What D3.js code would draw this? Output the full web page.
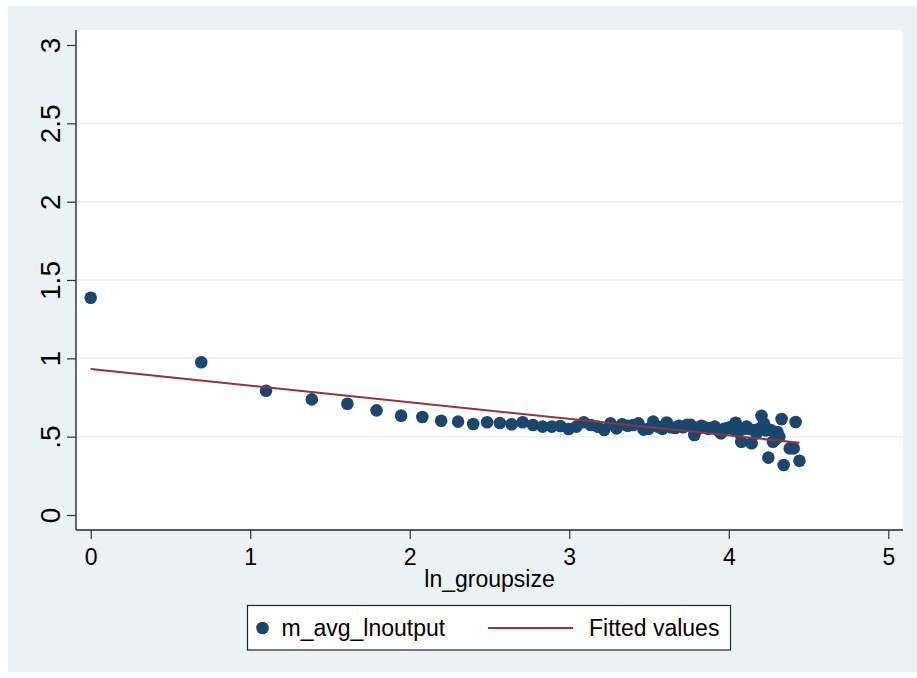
<!DOCTYPE html>
<html>
<head>
<meta charset="utf-8">
<script src="https://cdn.jsdelivr.net/npm/d3@7"></script>
<style>
  body { margin: 0; background: #fff; }
  text { font-family: "Liberation Sans", Arial, sans-serif; fill: #000; }
</style>
</head>
<body>
<div id="chart"></div>
<script>
var width = 917,
    height = 678;

// ln_groupsize of each point
var lnGroupsize = [
  0, 0.693, 1.099, 1.386, 1.609, 1.792, 1.946, 2.079, 2.197, 2.303,
  2.398, 2.485, 2.565, 2.639, 2.708, 2.773, 2.833, 2.890, 2.944, 2.996,
  3.045, 3.091, 3.135, 3.178, 3.219, 3.258, 3.296, 3.332, 3.367, 3.401,
  3.434, 3.466, 3.497, 3.526, 3.555, 3.584, 3.611, 3.638, 3.664, 3.689,
  3.714, 3.738, 3.761, 3.784, 3.807, 3.829, 3.850, 3.871, 3.892, 3.912,
  3.932, 3.951, 3.970, 3.989, 4.007, 4.025, 4.043, 4.060, 4.078, 4.094,
  4.111, 4.127, 4.143, 4.159, 4.174, 4.190, 4.205, 4.220, 4.234, 4.248,
  4.263, 4.277, 4.290, 4.304, 4.317, 4.331, 4.344, 4.382, 4.407, 4.419,
  4.443
];

// m_avg_lnoutput of each point
var mAvgLnoutput = [
  1.387, 0.975, 0.793, 0.738, 0.710, 0.668, 0.634, 0.626, 0.602, 0.596,
  0.581, 0.592, 0.587, 0.579, 0.592, 0.574, 0.564, 0.564, 0.568, 0.549,
  0.564, 0.592, 0.574, 0.564, 0.543, 0.585, 0.553, 0.579, 0.570, 0.574,
  0.585, 0.545, 0.550, 0.596, 0.564, 0.550, 0.590, 0.560, 0.555, 0.570,
  0.560, 0.575, 0.575, 0.511, 0.550, 0.570, 0.560, 0.550, 0.555, 0.564,
  0.540, 0.521, 0.550, 0.553, 0.560, 0.550, 0.589, 0.530, 0.468, 0.550,
  0.564, 0.550, 0.458, 0.540, 0.521, 0.550, 0.633, 0.585, 0.540, 0.366,
  0.543, 0.468, 0.480, 0.530, 0.500, 0.613, 0.319, 0.425, 0.425, 0.594,
  0.346
];

// fitted values (linear fit), end points
var fitX = [0, 4.443];
var fitY = [0.932, 0.461];

var xTicks = [0, 1, 2, 3, 4, 5];
var yTicks = [0, 0.5, 1, 1.5, 2, 2.5, 3];
var yTickLabels = ["0", ".5", "1", "1.5", "2", "2.5", "3"];
var xTitle = "ln_groupsize";
var legendLabels = ["m_avg_lnoutput", "Fitted values"];

var navy = "#1a476f",
    maroon = "#90353b",
    bluishgray = "#eaf2f3";

var plot = {left: 76, right: 903, top: 30, bottom: 530};

var x = d3.scaleLinear()
    .domain([0, 5])
    .range([90.7, 888.3]);

var y = d3.scaleLinear()
    .domain([0, 3])
    .range([515, 45]);

var svg = d3.select("#chart").append("svg")
    .attr("width", width)
    .attr("height", height);

// graph region
svg.append("rect")
    .attr("x", 8).attr("y", 6)
    .attr("width", 909).attr("height", 666)
    .attr("fill", bluishgray);

// plot region
svg.append("rect")
    .attr("x", plot.left).attr("y", plot.top)
    .attr("width", plot.right - plot.left)
    .attr("height", plot.bottom - plot.top)
    .attr("fill", "#fff");

// grid lines (not on the outer ticks)
svg.append("g")
  .selectAll("line")
    .data(yTicks.filter(function(d) { return d > 0 && d < 3; }))
  .enter().append("line")
    .attr("x1", plot.left).attr("x2", plot.right)
    .attr("y1", function(d) { return y(d); })
    .attr("y2", function(d) { return y(d); })
    .attr("stroke", bluishgray)
    .attr("stroke-width", 1.5);

// y axis
var yAxis = svg.append("g")
    .attr("transform", "translate(" + plot.left + ",0)")
    .call(d3.axisLeft(y).tickValues(yTicks).tickSize(9).tickPadding(6)
      .tickFormat(function(d, i) { return yTickLabels[i]; }));
yAxis.select(".domain")
    .attr("d", "M0," + plot.top + "V" + plot.bottom)
    .attr("stroke", "#666").attr("stroke-width", 2);
yAxis.selectAll(".tick line").attr("stroke", "#333").attr("stroke-width", 1.2);
yAxis.selectAll(".tick text")
    .attr("font-size", 28)
    .attr("font-family", "Liberation Sans, Arial, sans-serif")
    .attr("text-anchor", "middle")
    .attr("x", null).attr("dy", null)
    .attr("transform", "translate(-16,0) rotate(-90)");

// x axis
var xAxis = svg.append("g")
    .attr("transform", "translate(0," + plot.bottom + ")")
    .call(d3.axisBottom(x).tickValues(xTicks).tickSize(9).tickPadding(10)
      .tickFormat(d3.format("d")));
xAxis.select(".domain")
    .attr("d", "M" + plot.left + ",0H" + plot.right)
    .attr("stroke", "#222").attr("stroke-width", 1.5);
xAxis.selectAll(".tick line").attr("stroke", "#333").attr("stroke-width", 1.2);
xAxis.selectAll(".tick text")
    .attr("font-size", 23)
    .attr("font-family", "Liberation Sans, Arial, sans-serif");

svg.append("text")
    .attr("x", (plot.left + plot.right) / 2)
    .attr("y", 587)
    .attr("text-anchor", "middle")
    .attr("font-size", 23)
    .text(xTitle);

// scatter points
var points = lnGroupsize.map(function(d, i) { return [d, mAvgLnoutput[i]]; });

svg.append("g")
  .selectAll("circle")
    .data(points)
  .enter().append("circle")
    .attr("cx", function(d) { return x(d[0]); })
    .attr("cy", function(d) { return y(d[1]); })
    .attr("r", 6.3)
    .attr("fill", navy);

// fitted line
var line = d3.line()
    .x(function(d) { return x(d[0]); })
    .y(function(d) { return y(d[1]); });

svg.append("path")
    .datum(fitX.map(function(d, i) { return [d, fitY[i]]; }))
    .attr("d", line)
    .attr("fill", "none")
    .attr("stroke", maroon)
    .attr("stroke-width", 2);

// legend
var legend = svg.append("g");
legend.append("rect")
    .attr("x", 247.5).attr("y", 605.5)
    .attr("width", 483).attr("height", 44.5)
    .attr("fill", "#fff")
    .attr("stroke", "#222").attr("stroke-width", 1.2);
legend.append("circle")
    .attr("cx", 262.5).attr("cy", 628)
    .attr("r", 6.3).attr("fill", navy);
legend.append("text")
    .attr("x", 281.5).attr("y", 636)
    .attr("font-size", 23)
    .text(legendLabels[0]);
legend.append("line")
    .attr("x1", 488).attr("x2", 573)
    .attr("y1", 628).attr("y2", 628)
    .attr("stroke", maroon).attr("stroke-width", 2);
legend.append("text")
    .attr("x", 589).attr("y", 636)
    .attr("font-size", 23)
    .text(legendLabels[1]);
</script>
</body>
</html>
